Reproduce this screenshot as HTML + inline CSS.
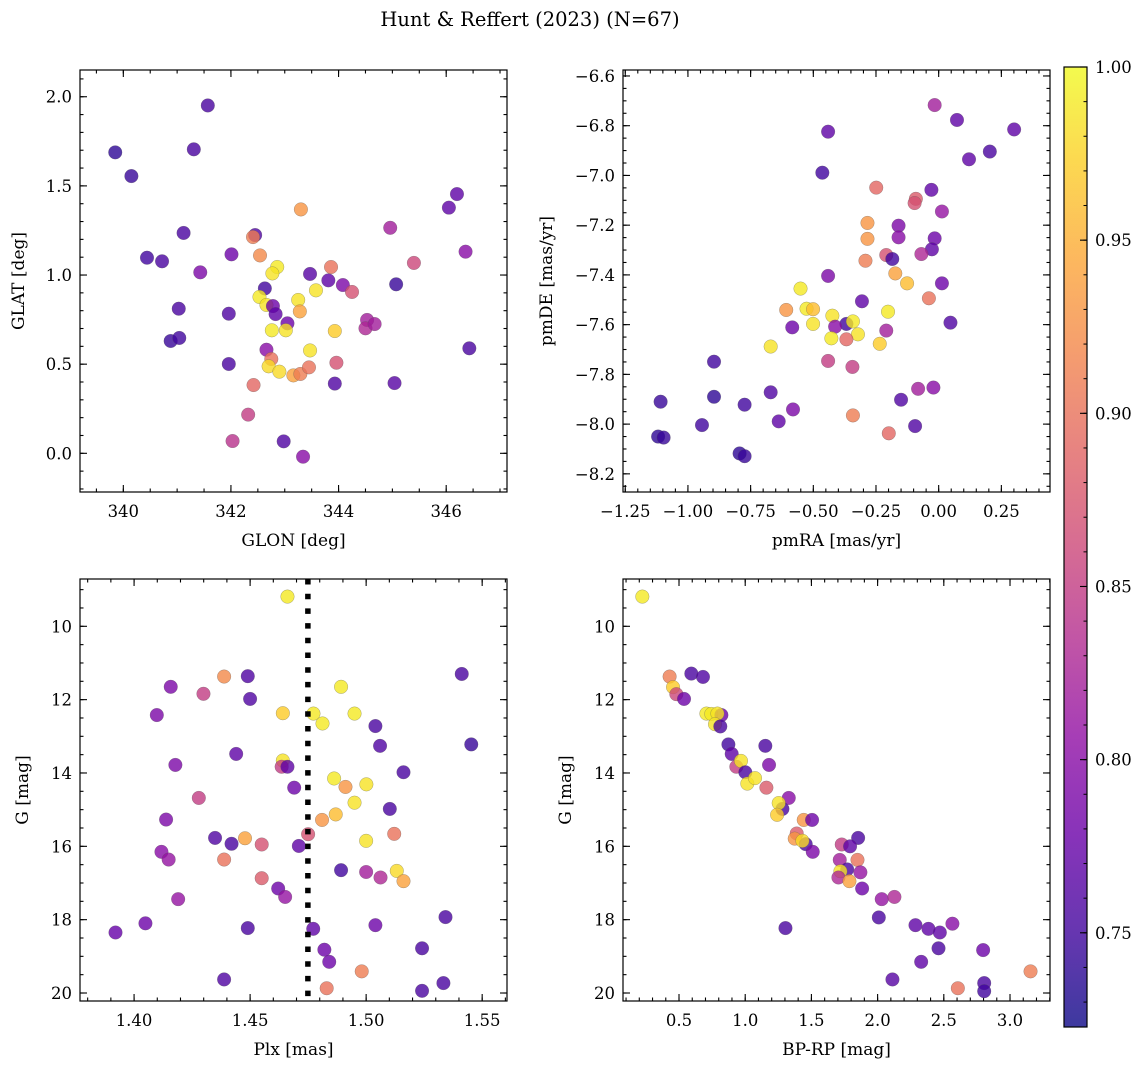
<!DOCTYPE html>
<html><head><meta charset="utf-8"><style>
body{margin:0;background:#fff;}
svg{display:block;font-family:"DejaVu Serif","Liberation Serif",serif;}
</style></head><body>
<svg id="fig" width="1148" height="1067" viewBox="0 0 1148 1067" xmlns="http://www.w3.org/2000/svg">
<defs>
<linearGradient id="plasma" x1="0" y1="1" x2="0" y2="0">
<stop offset="0" stop-color="#0d0887"/><stop offset="0.1" stop-color="#41049d"/><stop offset="0.2" stop-color="#6a00a8"/><stop offset="0.3" stop-color="#8f0da4"/><stop offset="0.4" stop-color="#b12a90"/><stop offset="0.5" stop-color="#cc4778"/><stop offset="0.6" stop-color="#e16462"/><stop offset="0.7" stop-color="#f2844b"/><stop offset="0.8" stop-color="#fca636"/><stop offset="0.9" stop-color="#fcce25"/><stop offset="1" stop-color="#f0f921"/>
</linearGradient>
</defs>
<text x="530" y="26" font-size="19.5" text-anchor="middle">Hunt &amp; Reffert (2023) (N=67)</text>
</svg>
<script>
// ---- data ----
const p1Glon=[339.85,340.15,341.57,341.31,341.12,340.44,340.72,341.43,341.03,340.88,341.04,342.01,341.96,341.96,342.03,342.32,342.42,342.45,342.41,342.54,343.30,342.86,342.77,342.63,342.53,342.66,342.78,342.83,343.05,342.76,343.02,343.25,343.28,343.58,343.47,343.81,343.86,344.08,344.25,342.66,342.75,342.70,342.90,343.16,343.29,343.45,343.47,343.93,343.96,343.93,342.98,343.34,344.53,344.50,344.67,344.96,345.40,345.07,345.04,346.05,346.20,346.36,346.43];
const p1Glat=[1.688,1.555,1.951,1.705,1.236,1.097,1.077,1.015,0.811,0.630,0.647,1.116,0.783,0.501,0.069,0.217,0.383,1.224,1.213,1.110,1.368,1.045,1.009,0.925,0.877,0.832,0.826,0.781,0.729,0.690,0.690,0.860,0.796,0.914,1.006,0.970,1.045,0.944,0.905,0.581,0.529,0.488,0.458,0.437,0.445,0.482,0.577,0.686,0.508,0.391,0.067,-0.019,0.748,0.701,0.725,1.265,1.068,0.948,0.394,1.378,1.454,1.131,0.589];
const p1Prob=[0.74,0.745,0.755,0.755,0.755,0.75,0.755,0.79,0.755,0.745,0.75,0.78,0.76,0.755,0.84,0.85,0.89,0.76,0.91,0.92,0.93,0.99,0.985,0.75,0.99,0.985,0.78,0.77,0.78,0.99,0.985,0.985,0.94,0.985,0.765,0.77,0.9,0.79,0.87,0.8,0.9,0.98,0.98,0.94,0.91,0.9,0.985,0.97,0.87,0.76,0.76,0.8,0.82,0.83,0.82,0.82,0.86,0.745,0.765,0.77,0.77,0.8,0.755];

const p2PmRA=[-0.016,0.073,0.301,0.204,0.121,-0.441,-0.464,-0.249,-0.029,-0.091,-0.096,0.013,-0.284,-0.160,-0.284,-0.160,-0.016,-0.027,-0.209,-0.185,-0.069,-0.292,-0.441,-0.173,-0.126,0.013,-0.551,-0.306,-0.039,-0.608,-0.527,-0.501,-0.424,-0.202,-0.368,-0.342,-0.413,-0.501,-0.584,0.047,-0.209,-0.322,-0.428,-0.368,-0.235,-0.670,-0.441,-0.344,-0.896,-0.082,-0.021,-0.150,-0.670,-1.109,-0.896,-0.774,-0.581,-0.638,-0.342,-0.944,-0.094,-0.199,-1.119,-1.097,-0.794,-0.774];
const p2PmDE=[-6.717,-6.777,-6.815,-6.904,-6.935,-6.824,-6.989,-7.049,-7.058,-7.094,-7.111,-7.145,-7.191,-7.202,-7.255,-7.249,-7.253,-7.297,-7.320,-7.336,-7.316,-7.343,-7.404,-7.394,-7.434,-7.434,-7.455,-7.506,-7.494,-7.541,-7.536,-7.538,-7.564,-7.548,-7.597,-7.587,-7.608,-7.597,-7.611,-7.592,-7.624,-7.639,-7.655,-7.659,-7.677,-7.688,-7.746,-7.770,-7.749,-7.858,-7.853,-7.902,-7.872,-7.910,-7.890,-7.922,-7.941,-7.989,-7.965,-8.004,-8.008,-8.037,-8.050,-8.054,-8.118,-8.129];
const p2Prob=[0.82,0.77,0.77,0.755,0.77,0.77,0.75,0.89,0.77,0.88,0.87,0.81,0.93,0.79,0.93,0.8,0.78,0.77,0.87,0.75,0.83,0.91,0.79,0.94,0.96,0.78,0.99,0.77,0.9,0.93,0.99,0.96,0.985,0.99,0.75,0.99,0.8,0.985,0.78,0.76,0.82,0.985,0.99,0.89,0.97,0.985,0.85,0.85,0.75,0.82,0.8,0.76,0.76,0.745,0.74,0.75,0.79,0.77,0.91,0.75,0.76,0.89,0.74,0.745,0.74,0.745];

const p3Plx=[1.4661,1.4388,1.4490,1.4158,1.4299,1.4500,1.4098,1.4641,1.4892,1.4773,1.4812,1.4950,1.5040,1.5060,1.5412,1.5453,1.4440,1.4178,1.4641,1.4636,1.4661,1.4690,1.5161,1.4862,1.4911,1.5001,1.4950,1.4279,1.5102,1.4869,1.4810,1.4138,1.4750,1.5121,1.4349,1.4420,1.4478,1.4550,1.4710,1.5000,1.4118,1.4149,1.4388,1.4892,1.5000,1.5062,1.5132,1.5161,1.4550,1.4621,1.4651,1.4190,1.4049,1.3920,1.4490,1.4772,1.5040,1.5342,1.4820,1.4841,1.5241,1.4981,1.4388,1.4830,1.5241,1.5333];
const p3G=[9.19,11.37,11.36,11.65,11.84,11.98,12.42,12.37,11.65,12.38,12.65,12.38,12.72,13.26,11.30,13.22,13.48,13.78,13.66,13.83,13.83,14.40,13.98,14.15,14.38,14.31,14.81,14.68,14.98,15.13,15.28,15.27,15.67,15.66,15.77,15.93,15.78,15.95,15.99,15.85,16.15,16.36,16.36,16.65,16.70,16.85,16.67,16.95,16.87,17.15,17.38,17.44,18.10,18.35,18.23,18.25,18.15,17.93,18.82,19.15,18.78,19.41,19.63,19.87,19.94,19.73];
const p3Prob=[0.99,0.92,0.76,0.79,0.85,0.76,0.79,0.97,0.99,0.99,0.99,0.99,0.755,0.76,0.755,0.745,0.77,0.79,0.985,0.85,0.77,0.78,0.755,0.99,0.93,0.985,0.985,0.85,0.755,0.96,0.93,0.79,0.87,0.9,0.76,0.755,0.94,0.87,0.77,0.985,0.8,0.81,0.9,0.75,0.82,0.83,0.98,0.94,0.88,0.78,0.81,0.81,0.78,0.775,0.755,0.77,0.78,0.755,0.78,0.78,0.755,0.91,0.76,0.9,0.755,0.755];
const plxLine=1.4749;

const p4BpRp=[0.223,0.429,0.455,0.480,0.538,0.593,0.681,0.707,0.744,0.820,0.790,0.772,0.812,0.873,1.152,0.898,1.180,0.933,0.968,1.001,1.016,1.074,1.160,1.329,1.281,1.253,1.241,1.442,1.505,1.389,1.374,1.457,1.432,1.510,1.853,1.729,1.792,1.848,1.714,1.770,1.870,1.719,1.704,1.787,1.883,2.031,2.127,2.009,1.304,2.286,2.384,2.470,2.565,2.460,2.797,2.329,2.112,3.155,2.606,2.805,2.805];
const p4G=[9.19,11.37,11.66,11.85,11.98,11.29,11.38,12.38,12.39,12.42,12.38,12.67,12.73,13.22,13.26,13.48,13.78,13.83,13.67,13.98,14.29,14.14,14.40,14.68,14.98,14.82,15.14,15.28,15.28,15.65,15.79,15.94,15.85,16.15,15.77,15.95,16.00,16.37,16.37,16.63,16.71,16.68,16.85,16.95,17.15,17.44,17.38,17.94,18.23,18.15,18.25,18.35,18.11,18.78,18.83,19.15,19.63,19.41,19.87,19.73,19.95];
const p4Prob=[0.99,0.91,0.97,0.86,0.78,0.755,0.76,0.99,0.99,0.78,0.985,0.985,0.755,0.75,0.755,0.77,0.79,0.85,0.985,0.755,0.985,0.985,0.88,0.8,0.755,0.985,0.97,0.93,0.78,0.88,0.93,0.755,0.98,0.79,0.755,0.85,0.77,0.9,0.82,0.755,0.81,0.985,0.83,0.94,0.78,0.81,0.83,0.755,0.755,0.77,0.77,0.77,0.8,0.755,0.78,0.77,0.765,0.91,0.9,0.755,0.75];

const cbTicks=[0.75,0.80,0.85,0.90,0.95,1.00];
const vmin=0.7228, vmax=1.0;

// ---- helpers ----
const NS='http://www.w3.org/2000/svg';
const svg=document.getElementById('fig');
function mk(tag,attrs,parent){const e=document.createElementNS(NS,tag);for(const k in attrs)e.setAttribute(k,attrs[k]);(parent||svg).appendChild(e);return e;}
const stops=[[13,8,135],[65,4,157],[106,0,168],[143,13,164],[177,42,144],[204,71,120],[225,100,98],[242,132,75],[252,166,54],[252,206,37],[240,249,33]];
function plasma(v){let t=(v-vmin)/(vmax-vmin);t=Math.max(0,Math.min(1,t))*10;const i=Math.min(9,Math.floor(t)),f=t-i;const a=stops[i],b=stops[i+1];return 'rgb('+a.map((c,k)=>Math.round(c+(b[k]-c)*f)).join(',')+')';}
const FS=16.5;

function panel(o){
  const g=mk('g',{});
  
  
  const sx=v=>o.px0+(v-o.xmin)/(o.xmax-o.xmin)*(o.px1-o.px0);
  const sy=o.invert?(v=>o.py0+(v-o.ymin)/(o.ymax-o.ymin)*(o.py1-o.py0)):(v=>o.py1-(v-o.ymin)/(o.ymax-o.ymin)*(o.py1-o.py0));
  const ticks=mk('g',{stroke:'#000','stroke-width':1.1},g);
  
  
  function eachTick(min,max,step,fn){const s=Math.ceil(min/step-1e-6);for(let k=s;k*step<=max+1e-9;k++)fn(+(k*step).toFixed(6));}
  eachTick(o.xmin,o.xmax,o.xminor,v=>{const x=sx(v);mk('line',{x1:x,x2:x,y1:o.py1,y2:o.py1-3.5},ticks);mk('line',{x1:x,x2:x,y1:o.py0,y2:o.py0+3.5},ticks);});
  eachTick(o.xmin,o.xmax,o.xmajor,v=>{const x=sx(v);mk('line',{x1:x,x2:x,y1:o.py1,y2:o.py1-7},ticks);mk('line',{x1:x,x2:x,y1:o.py0,y2:o.py0+7},ticks);
    const t=mk('text',{x:x,y:o.py1+25,'font-size':FS,'text-anchor':'middle',stroke:'none'},g);
    
    
    t.textContent=(v<0?'\u2212':'')+Math.abs(v).toFixed(o.xdec);});
  eachTick(o.ymin,o.ymax,o.yminor,v=>{const y=sy(v);mk('line',{x1:o.px0,x2:o.px0+3.5,y1:y,y2:y},ticks);mk('line',{x1:o.px1,x2:o.px1-3.5,y1:y,y2:y},ticks);});
  eachTick(o.ymin,o.ymax,o.ymajor,v=>{const y=sy(v);mk('line',{x1:o.px0,x2:o.px0+7,y1:y,y2:y},ticks);mk('line',{x1:o.px1,x2:o.px1-7,y1:y,y2:y},ticks);
    const t=mk('text',{x:o.px0-8,y:y+6,'font-size':FS,'text-anchor':'end'},g);
    
    
    t.textContent=(v<0?'\u2212':'')+Math.abs(v).toFixed(o.ydec);});
  const pts=mk('g',{},g);
  
  
  for(let i=0;i<o.xs.length;i++){
    const c=mk('circle',{cx:sx(o.xs[i]),cy:sy(o.ys[i]),r:6.8,fill:plasma(o.cs[i]),'fill-opacity':0.8,stroke:'#555','stroke-opacity':0.5,'stroke-width':0.5},pts);
    
    
  }
  if(o.vline!==undefined){
    const l=mk('line',{x1:sx(o.vline),x2:sx(o.vline),y1:o.py0,y2:o.py1,stroke:'#000','stroke-width':5.5,'stroke-dasharray':'5.5 9.2'},g);
    
    
  }
  const fr=mk('rect',{x:o.px0,y:o.py0,width:o.px1-o.px0,height:o.py1-o.py0,fill:'none',stroke:'#000','stroke-width':1.2},g);
  
  
  const xl=mk('text',{x:(o.px0+o.px1)/2,y:o.py1+54,'font-size':17,'text-anchor':'middle'},g);
  
  
  xl.textContent=o.xlabel;
  const cy=(o.py0+o.py1)/2, cx=o.ylabx;
  const yl=mk('text',{x:cx,y:cy,'font-size':17,'text-anchor':'middle',transform:'rotate(-90 '+cx+' '+cy+')'},g);
  
  
  yl.textContent=o.ylabel;
}

panel({name:'glon-glat-panel',px0:80,px1:507,py0:70,py1:492,xmin:339.195,xmax:347.13,ymin:-0.217,ymax:2.150,xmajor:2,xminor:0.5,ymajor:0.5,yminor:0.1,xdec:0,ydec:1,xs:p1Glon,ys:p1Glat,cs:p1Prob,xlabel:'GLON [deg]',ylabel:'GLAT [deg]',ylabx:24});
panel({name:'proper-motion-panel',px0:623,px1:1050,py0:70,py1:492,xmin:-1.259,xmax:0.444,ymin:-8.273,ymax:-6.576,xmajor:0.25,xminor:0.05,ymajor:0.2,yminor:0.05,xdec:2,ydec:1,xs:p2PmRA,ys:p2PmDE,cs:p2Prob,xlabel:'pmRA [mas/yr]',ylabel:'pmDE [mas/yr]',ylabx:552});
panel({name:'parallax-magnitude-panel',px0:80,px1:507,py0:579,py1:1001,xmin:1.3767,xmax:1.5607,ymin:8.710,ymax:20.218,invert:true,xmajor:0.05,xminor:0.01,ymajor:2,yminor:0.5,xdec:2,ydec:0,xs:p3Plx,ys:p3G,cs:p3Prob,xlabel:'Plx [mas]',ylabel:'G [mag]',ylabx:28,vline:plxLine});
panel({name:'color-magnitude-panel',px0:623,px1:1050,py0:579,py1:1001,xmin:0.077,xmax:3.302,ymin:8.710,ymax:20.218,invert:true,xmajor:0.5,xminor:0.1,ymajor:2,yminor:0.5,xdec:1,ydec:0,xs:p4BpRp,ys:p4G,cs:p4Prob,xlabel:'BP-RP [mag]',ylabel:'G [mag]',ylabx:571});

// colorbar
const cbx0=1064,cbx1=1087,cby0=67,cby1=1027;
const cb=mk('g',{});


mk('rect',{x:cbx0,y:cby0,width:cbx1-cbx0,height:cby1-cby0,fill:'url(#plasma)','fill-opacity':0.8},cb);
mk('rect',{x:cbx0,y:cby0,width:cbx1-cbx0,height:cby1-cby0,fill:'none',stroke:'#000','stroke-width':1.2},cb);
const cyv=v=>cby1-(v-vmin)/(vmax-vmin)*(cby1-cby0);
for(let v=0.73;v<=1.0001;v+=0.01){const y=cyv(v);mk('line',{x1:cbx1,x2:cbx1-3.5,y1:y,y2:y,stroke:'#000','stroke-width':1},cb);}
cbTicks.forEach(v=>{const y=cyv(v);mk('line',{x1:cbx1,x2:cbx1-7,y1:y,y2:y,stroke:'#000','stroke-width':1.1},cb);
  const t=mk('text',{x:cbx1+8,y:y+6,'font-size':FS},cb);
  
  
  t.textContent=v.toFixed(2);});
</script>
</body></html>
